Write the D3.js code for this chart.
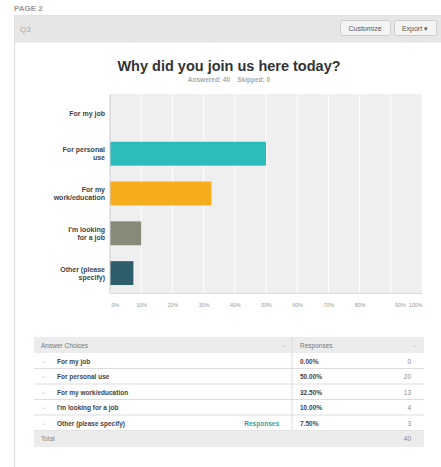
<!DOCTYPE html>
<html>
<head>
<meta charset="utf-8">
<script src="https://cdn.jsdelivr.net/npm/d3@7"></script>
<style>
body { margin: 0; background: #fff; }
svg { font-family: Arial, "Liberation Sans", sans-serif; display: block; }
</style>
</head>
<body>
<div id="vis"></div>
<script>
const WIDTH = 441;
const HEIGHT = 467;

// datos del grafico
const choices = ["For my job", "For personal use", "For my work/education", "I'm looking for a job", "Other (please specify)"];
const axisLabels = [["For my job"], ["For personal", "use"], ["For my", "work/education"], ["I'm looking", "for a job"], ["Other (please", "specify)"]];
const percents = [0, 50, 32.5, 10, 7.5];
const counts = [0, 20, 13, 4, 3];
const barColors = ["#2dbcbc", "#2dbcbc", "#f5ad1e", "#878a79", "#2e5d6b"];
const ticks = [0, 10, 20, 30, 40, 50, 60, 70, 80, 90, 100];
const total = 40;
const skipped = 0;

const svg = d3.select("#vis").append("svg").attr("width", WIDTH).attr("height", HEIGHT);

// pagina y panel
svg.append("text").attr("x", 14).attr("y", 11).attr("fill", "#999").attr("font-size", 8)
    .attr("font-weight", "bold").text("PAGE 2");
svg.append("rect").attr("x", 14.5).attr("y", 15.5).attr("width", 430).attr("height", 470)
    .attr("fill", "#fff").attr("stroke", "#ddd");
svg.append("rect").attr("x", 14.5).attr("y", 15.5).attr("width", 430).attr("height", 27)
    .attr("fill", "#e6e6e6");
svg.append("text").attr("x", 20).attr("y", 32).attr("fill", "#aaa").attr("font-size", 8).text("Q3");

const buttons = [{ label: "Customize", x: 340, w: 50 }, { label: "Export ▾", x: 394, w: 42 }];
buttons.forEach(b => {
    svg.append("rect").attr("x", b.x + 0.5).attr("y", 20.5).attr("width", b.w).attr("height", 15)
        .attr("rx", 2).attr("fill", "#f4f4f4").attr("stroke", "#ccc");
    svg.append("text").attr("x", b.x + b.w / 2).attr("y", 31).attr("text-anchor", "middle")
        .attr("font-size", 7).attr("fill", "#555").text(b.label);
});

// titulo
svg.append("text").attr("x", 229).attr("y", 71).attr("text-anchor", "middle").attr("font-size", 14.5)
    .attr("font-weight", "bold").attr("fill", "#333").text("Why did you join us here today?");
svg.append("text").attr("x", 229).attr("y", 82).attr("text-anchor", "middle").attr("font-size", 6.5)
    .attr("font-weight", "bold").attr("fill", "#aaa").attr("xml:space", "preserve")
    .text(`Answered: ${total}    Skipped: ${skipped}`);

// grafico de barras
const x = d3.scaleLinear().domain([0, 100]).range([110, 422]);
const y = d3.scaleBand().domain(choices).range([94, 293]).paddingInner(0.4).paddingOuter(0.2);

svg.append("rect").attr("x", x(0)).attr("y", 94).attr("width", x(100) - x(0)).attr("height", 199)
    .attr("fill", "#efefef");
svg.selectAll(".grid").data(ticks.slice(1, -1)).enter().append("line")
    .attr("class", "grid")
    .attr("x1", d => x(d)).attr("x2", d => x(d)).attr("y1", 94).attr("y2", 293)
    .attr("stroke", "#fff").attr("stroke-width", 1);

svg.selectAll(".bar").data(choices).enter().append("rect")
    .attr("class", "bar")
    .attr("x", x(0))
    .attr("y", d => y(d))
    .attr("width", (d, i) => x(percents[i]) - x(0))
    .attr("height", y.bandwidth())
    .attr("fill", (d, i) => barColors[i]);

svg.append("line").attr("x1", x(0)).attr("x2", x(0)).attr("y1", 94).attr("y2", 293).attr("stroke", "#ccc");
svg.append("line").attr("x1", x(0)).attr("x2", x(100)).attr("y1", 293.5).attr("y2", 293.5).attr("stroke", "#ddd");

// etiquetas del eje y
const yl = svg.selectAll(".ylab").data(choices).enter().append("text")
    .attr("class", "ylab")
    .attr("text-anchor", "end")
    .attr("font-size", 7).attr("font-weight", "bold").attr("fill", "#444");
yl.each(function (d, i) {
    const lines = axisLabels[i];
    const cy = y(d) + y.bandwidth() / 2;
    lines.forEach((t, j) => {
        d3.select(this).append("tspan").attr("x", 105)
            .attr("y", cy + 2.5 + (j - (lines.length - 1) / 2) * 8).text(t);
    });
});

// eje x
const xAxis = svg.append("g").attr("transform", "translate(0,300)")
    .call(d3.axisBottom(x).tickValues(ticks).tickFormat(d => d + "%").tickSize(0));
xAxis.select(".domain").remove();
xAxis.selectAll("text").attr("font-size", 5.3).attr("fill", "#999").attr("font-family", "Arial, sans-serif")
    .attr("text-anchor", d => d === 0 ? "start" : d === 100 ? "end" : "middle")
    .attr("dx", d => d === 90 ? 9 : d === 0 ? 1 : 0);

// tabla
const tx0 = 34, tx1 = 424, colX = 292;
const headY = 337, rowH = 15.5;
svg.append("rect").attr("x", tx0).attr("y", headY).attr("width", tx1 - tx0).attr("height", 16).attr("fill", "#ececec");
svg.append("line").attr("x1", colX).attr("x2", colX).attr("y1", headY).attr("y2", headY + 16 + rowH * choices.length)
    .attr("stroke", "#ddd");
svg.append("text").attr("x", 41).attr("y", headY + 10.5).attr("font-size", 6.5).attr("fill", "#777").text("Answer Choices");
svg.append("text").attr("x", 300).attr("y", headY + 10.5).attr("font-size", 6.5).attr("fill", "#777").text("Responses");
[283, 415].forEach(cx => svg.append("text").attr("x", cx).attr("y", headY + 10).attr("font-size", 6)
    .attr("fill", "#bbb").attr("text-anchor", "middle").text("⌄"));

const rows = svg.selectAll(".row").data(choices).enter().append("g")
    .attr("class", "row")
    .attr("transform", (d, i) => `translate(0,${headY + 16 + i * rowH})`);
rows.append("line").attr("x1", tx0).attr("x2", tx1).attr("y1", rowH).attr("y2", rowH).attr("stroke", "#ddd");
rows.append("text").attr("x", 43).attr("y", 9.5).attr("font-size", 6).attr("fill", "#bbb")
    .attr("text-anchor", "middle").text("⌄");
rows.append("text").attr("x", 57).attr("y", 10.5).attr("font-size", 6.5).attr("font-weight", "bold")
    .attr("fill", "#444").text(d => d);
rows.append("text").attr("x", 300).attr("y", 10.5).attr("font-size", 6.5).attr("font-weight", "bold")
    .attr("fill", "#444").text((d, i) => percents[i].toFixed(2) + "%");
rows.append("text").attr("x", 411).attr("y", 10.5).attr("font-size", 6.5).attr("text-anchor", "end")
    .attr("fill", "#888").text((d, i) => counts[i]);
rows.filter((d, i) => i === choices.length - 1).append("text")
    .attr("x", 279).attr("y", 10.5).attr("font-size", 6.5).attr("font-weight", "bold").attr("text-anchor", "end")
    .attr("fill", "#2aa5a5").text("Responses");

const totY = headY + 16 + rowH * choices.length;
svg.append("rect").attr("x", tx0).attr("y", totY).attr("width", tx1 - tx0).attr("height", 16.5).attr("fill", "#ececec");
svg.append("text").attr("x", 41).attr("y", totY + 10.5).attr("font-size", 6.5).attr("fill", "#888").text("Total");
svg.append("text").attr("x", 411).attr("y", totY + 10.5).attr("font-size", 6.5).attr("text-anchor", "end")
    .attr("fill", "#888").text(total);
</script>
</body>
</html>
